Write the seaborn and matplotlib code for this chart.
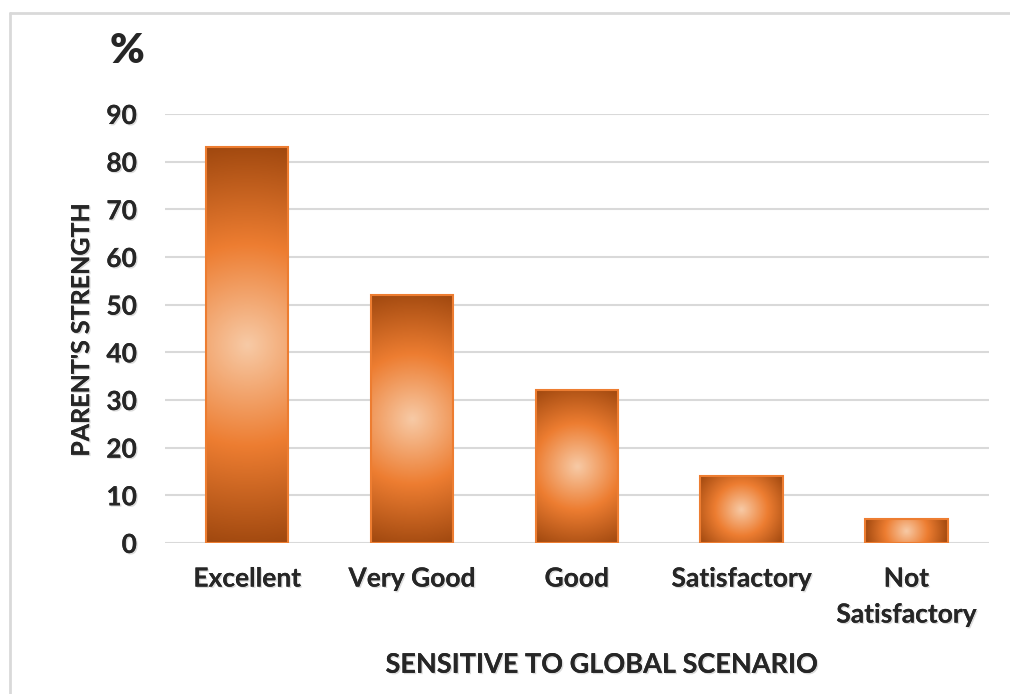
import numpy as np
import pandas as pd
import matplotlib
matplotlib.use("Agg")
import matplotlib.pyplot as plt
import seaborn as sns
from matplotlib.colors import LinearSegmentedColormap
from matplotlib.lines import Line2D
import matplotlib.patheffects as pe

# data
categories = ["Excellent", "Very Good", "Good", "Satisfactory", "Not\nSatisfactory"]
strength = [83, 52, 32, 14, 5]
yticks = [0, 10, 20, 30, 40, 50, 60, 70, 80, 90]

df = pd.DataFrame({"category": categories, "strength": strength})

sns.set_style("white")
plt.rcParams["font.family"] = ["Lato", "DejaVu Sans"]
plt.rcParams["font.weight"] = "bold"

fig = plt.figure(figsize=(10.1, 6.94), dpi=100)
ax = fig.add_axes([0.163, 0.2176, 0.816, 0.6181])

sns.barplot(data=df, x="category", y="strength", color="#ed7d31",
            width=0.5, edgecolor="#ed7d31", linewidth=1.5, ax=ax, zorder=3)

ax.set_ylim(0, 90)
ax.set_xlim(-0.5, len(categories) - 0.5)
ax.set_yticks(yticks)
ax.yaxis.grid(True, color="#d9d9d9", linewidth=1.5, zorder=0)
ax.set_axisbelow(True)
sns.despine(ax=ax, left=True, bottom=True, top=True, right=True)
ax.tick_params(axis="both", length=0, labelsize=19)
ax.tick_params(axis="y", pad=20)
ax.tick_params(axis="x", pad=17)

shadow = [pe.withSimplePatchShadow(offset=(1, -1), shadow_rgbFace="#bbbbbb", alpha=0.5), pe.Normal()]
for lab in ax.get_xticklabels() + ax.get_yticklabels():
    lab.set_fontweight("bold")
    lab.set_linespacing(1.6)
    lab.set_path_effects(shadow)

ax.set_xlabel("SENSITIVE TO GLOBAL SCENARIO", fontsize=19.5, fontweight="bold",
              va="center", path_effects=shadow)
ax.xaxis.set_label_coords(0.53, -0.284)
ax.set_ylabel("PARENT'S STRENGTH", fontsize=18, fontweight="bold",
              va="center", path_effects=shadow)
ax.yaxis.set_label_coords(-0.1007, 0.4965)

fig.text(0.126, 0.926, "%", fontsize=30, fontweight="heavy", ha="center", va="center")

# radial gradient fill, circle radius = half diagonal of each bar in pixels
grad = LinearSegmentedColormap.from_list(
    "bar", [(0.0, "#f7caa6"), (0.5, "#ed7d31"), (1.0, "#a0480f")])
fig.canvas.draw()
for bar in ax.patches:
    x0, y0 = bar.get_x(), bar.get_y()
    w, h = bar.get_width(), bar.get_height()
    (px0, py0), (px1, py1) = ax.transData.transform([(x0, y0), (x0 + w, y0 + h)])
    pw, ph = abs(px1 - px0), abs(py1 - py0)
    nx, ny = max(int(pw), 2), max(int(ph), 2)
    u = np.linspace(-pw / 2, pw / 2, nx)
    v = np.linspace(-ph / 2, ph / 2, ny)
    U, V = np.meshgrid(u, v)
    r = np.sqrt(U ** 2 + V ** 2) / np.sqrt((pw / 2) ** 2 + (ph / 2) ** 2)
    im = ax.imshow(r, cmap=grad, vmin=0, vmax=1, extent=(x0, x0 + w, y0, y0 + h),
                   origin="lower", aspect="auto", interpolation="bilinear", zorder=3.5)
    im.set_clip_path(bar)
    bar.set_facecolor("none")
    bar.set_zorder(4)
ax.set_xlim(-0.5, len(categories) - 0.5)
ax.set_ylim(0, 90)

# frame lines at the top and left of the picture
fig.add_artist(Line2D([10 / 1010, 1.0], [1 - 13 / 694, 1 - 13 / 694],
                      transform=fig.transFigure, color="#d9d9d9", linewidth=2))
fig.add_artist(Line2D([10 / 1010, 10 / 1010], [0.0, 1 - 13 / 694],
                      transform=fig.transFigure, color="#d9d9d9", linewidth=2))

fig.savefig("out.png", dpi=100)
